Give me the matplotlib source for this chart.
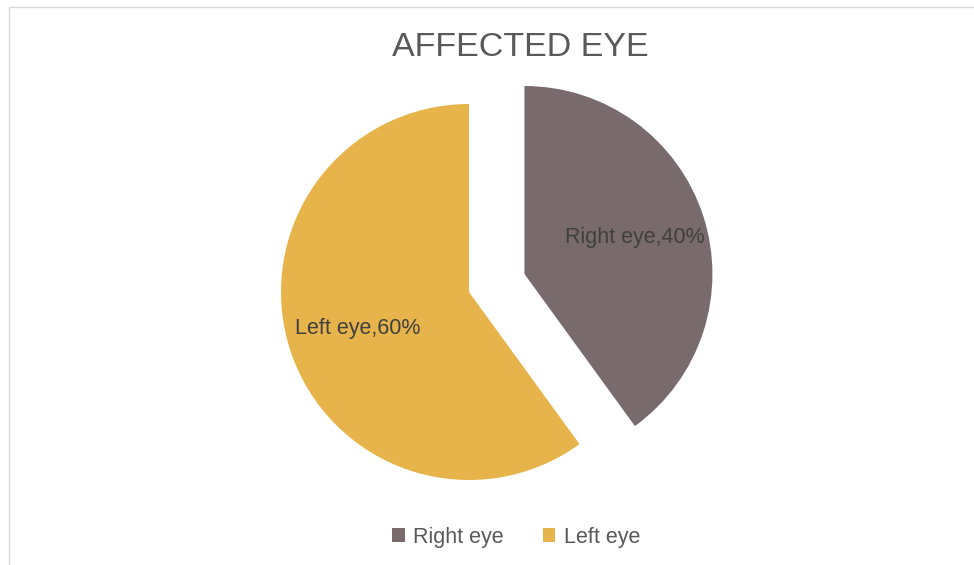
import matplotlib
matplotlib.use("Agg")
import matplotlib.pyplot as plt
from matplotlib.patches import Rectangle

categories = ["Right eye", "Left eye"]
values = [40, 60]
colors = ["#786A6D", "#E7B44B"]
title = "AFFECTED EYE"

plt.rcParams['font.family'] = ['Liberation Sans', 'DejaVu Sans']

W, H = 974, 565
fig = plt.figure(figsize=(W / 100, H / 100), dpi=100)

# outer chart border
fig.patches.append(Rectangle((9 / W, -0.01), 1.0, 1 - 7 / H + 0.01, transform=fig.transFigure,
                             fill=False, edgecolor="#D9D9D9", linewidth=1.0))

R = 188
side = 600
cx, cy = 469, H - 292
ax = fig.add_axes([(cx - side / 2) / W, (cy - side / 2) / H, side / W, side / H])
lim = side / 2 / R
ax.set_xlim(-lim, lim)
ax.set_ylim(-lim, lim)
ax.set_aspect('equal')
ax.axis('off')

labels = [f"{c},{v}%" for c, v in zip(categories, values)]
wedges, texts = ax.pie(values, labels=labels, colors=colors, startangle=90, counterclock=False,
                       explode=[0.31, 0], labeldistance=0.62, radius=1,
                       textprops=dict(fontsize=15.5, color="#404040", ha="center", va="center"),
                       wedgeprops=dict(linewidth=0))
for w in wedges:
    w.set_clip_on(False)
for t in texts:
    t.set_ha("center")
ax.set_xlim(-lim, lim)
ax.set_ylim(-lim, lim)

fig.text(520 / W, 1 - 47 / H, title, ha="center", va="center", fontsize=24.5, color="#595959")

handles = [Rectangle((0, 0), 1, 1, facecolor=c, edgecolor="none") for c in colors]
fig.legend(handles, categories, loc="center", bbox_to_anchor=(516 / W, 1 - 537 / H), ncol=2,
           frameon=False, fontsize=15.5, labelcolor="#595959", handlelength=0.6, handleheight=0.6,
           handletextpad=0.4, columnspacing=1.8)

fig.savefig("out.png", dpi=100, facecolor="white")
